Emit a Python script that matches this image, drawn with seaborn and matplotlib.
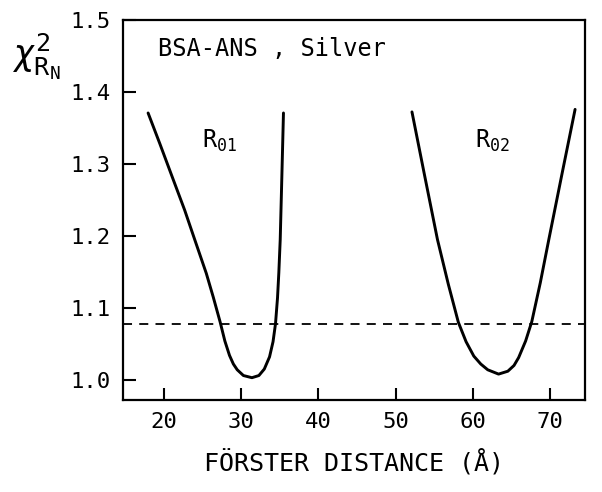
import matplotlib
matplotlib.use("Agg")
import matplotlib.pyplot as plt
import seaborn as sns

# Кривые chi^2 по Фёрстеровскому расстоянию
r01_x = [17.97, 19.5, 21.2, 22.7, 24.0, 25.5, 26.4, 27.3, 27.9, 28.5, 29.0, 29.5, 30.3,
         31.4, 32.3, 33.0, 33.68, 34.13, 34.45, 34.71, 34.88, 35.06, 35.27, 35.48]
r01_y = [1.371, 1.328, 1.279, 1.236, 1.195, 1.148, 1.115, 1.080, 1.054, 1.034, 1.022, 1.014, 1.006,
         1.003, 1.006, 1.015, 1.032, 1.053, 1.078, 1.114, 1.149, 1.195, 1.282, 1.371]

r02_x = [52.1, 53.7, 55.4, 56.8, 58.1, 59.1, 60.1, 61.0, 61.9, 63.3, 64.5, 65.3, 65.9,
         66.8, 67.6, 68.7, 69.8, 71.5, 73.2]
r02_y = [1.3725, 1.286, 1.195, 1.133, 1.080, 1.053, 1.033, 1.022, 1.014, 1.008, 1.012, 1.020, 1.031,
         1.054, 1.081, 1.135, 1.195, 1.286, 1.376]

threshold = 1.078
x_ticks = [20, 30, 40, 50, 60, 70]
y_ticks = [1.0, 1.1, 1.2, 1.3, 1.4, 1.5]

sns.set_theme(style="ticks")
plt.rcParams["font.family"] = ["DejaVu Sans Mono", "DejaVu Sans"]
plt.rcParams["mathtext.fontset"] = "custom"
plt.rcParams["mathtext.rm"] = "DejaVu Sans Mono"
plt.rcParams["mathtext.it"] = "DejaVu Sans Mono:italic"
for k in ["text.color", "axes.labelcolor", "xtick.color", "ytick.color", "axes.edgecolor"]:
    plt.rcParams[k] = "black"

fig = plt.figure(figsize=(6.02, 4.92), dpi=100)
ax = fig.add_axes([0.204, 0.187, 0.768, 0.772])

sns.lineplot(x=r01_x, y=r01_y, color="black", linewidth=2.1, ax=ax)
sns.lineplot(x=r02_x, y=r02_y, color="black", linewidth=2.1, ax=ax)
ax.axhline(threshold, color="black", linewidth=1.3, linestyle=(0, (5, 4)))

ax.set_xlim(14.7, 74.5)
ax.set_ylim(0.972, 1.5)
ax.set_xticks(x_ticks)
ax.set_yticks(y_ticks)
ax.set_yticklabels([f"{v:.1f}" for v in y_ticks])

for s in ax.spines.values():
    s.set_linewidth(1.6)
ax.tick_params(direction="in", length=9, width=1.5, labelsize=16, pad=9)

ax.set_xlabel("FÖRSTER DISTANCE (Å)", fontsize=18, labelpad=12)
fig.text(0.02, 0.885, r"$\chi^2_{\mathrm{R_N}}$", fontsize=26, ha="left", va="center")

ax.text(19.2, 1.46, "BSA-ANS , Silver", fontsize=17, ha="left", va="center")
ax.text(25.0, 1.332, r"R$_{01}$", fontsize=17, ha="left", va="center")
ax.text(60.3, 1.332, r"R$_{02}$", fontsize=17, ha="left", va="center")

fig.savefig("out.png", dpi=100)
